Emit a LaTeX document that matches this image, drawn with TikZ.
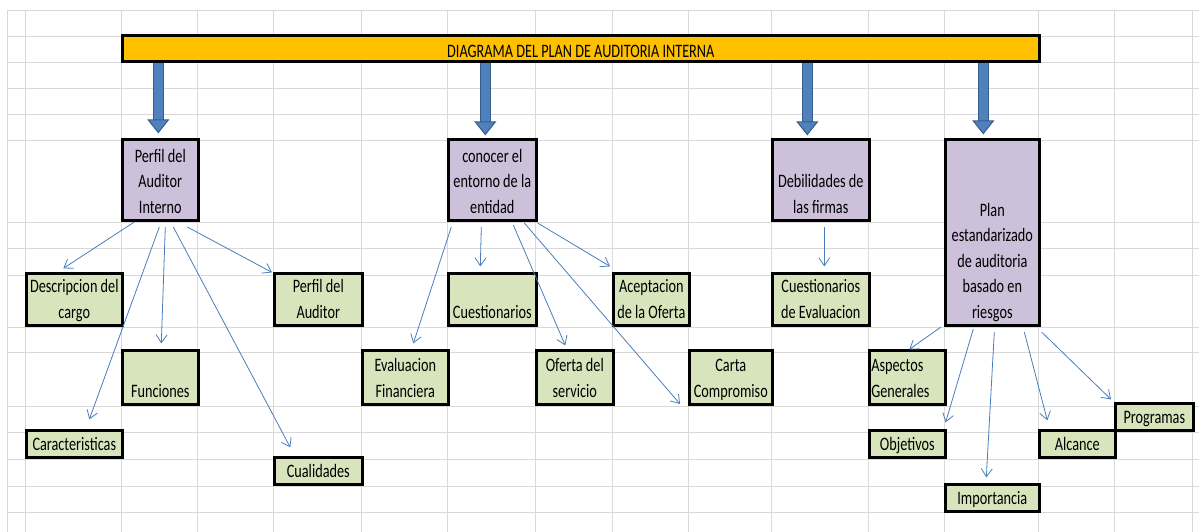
\documentclass[tikz,border=0pt]{standalone}
\usepackage{fontspec}
\setmainfont{Carlito}[FakeStretch=0.75]
\usetikzlibrary{arrows.meta}
\definecolor{barorange}{HTML}{FFC000}
\definecolor{headpurple}{HTML}{CCC0DA}
\definecolor{itemgreen}{HTML}{D8E4BC}
\definecolor{gridgray}{HTML}{D9D9D9}
\definecolor{arrowblue}{HTML}{4F81BD}
\definecolor{arrowedge}{HTML}{385D8A}
\definecolor{linkblue}{HTML}{4A7EBB}

\begin{document}
\begin{tikzpicture}[x=1pt, y=-1pt,
  cell/.style={draw=black, line width=2.6pt, inner sep=0pt, align=center,
    font=\fontsize{19}{25.5}\selectfont, text depth=7.5pt, anchor=south west},
  head/.style={cell, fill=headpurple},
  item/.style={cell, fill=itemgreen},
  dims/.style 2 args={minimum width=#1pt, text height=#2pt},
  gridline/.style={draw=gridgray, line width=1pt},
  link/.style={draw=linkblue, line width=0.8pt, -{Straight Barb[length=8pt,width=11pt]}},
  bigarrow/.style={draw=arrowblue, line width=9pt,
    -{Triangle[width=22pt,length=14pt,line width=1pt,fill=arrowblue,color=arrowedge]},
    preaction={draw=arrowedge, line width=11pt, arrows=-, shorten >=13pt}}]
  \useasboundingbox (0,0) rectangle (1199,532);
  \foreach \gx in {7,25,121,197,273,361,447,535,612,688,771,868,944,1038,1114,1192}
    \draw[gridline] (\gx,11) -- (\gx,532);
  \foreach \gy in {11,37,63,89,115,141,222,248,275,327,352,406,432,459,486,512}
    \draw[gridline] (7,\gy) -- (1199,\gy);

  \node[cell, fill=barorange, dims={917}{21.5}, text depth=4.5pt] (title) at (121,63)
    {DIAGRAMA DEL PLAN DE AUDITORIA INTERNA};

  \node[head, dims={76}{73.5}] (perfil) at (121,222) {Perfil del\\Auditor\\Interno};
  \node[head, dims={88}{73.5}] (entorno) at (447,222) {conocer el\\entorno de la\\entidad};
  \node[head, dims={97}{73.5}] (debil) at (771,222) {Debilidades de\\las firmas};
  \node[head, dims={94}{178.5}] (plan) at (944,327)
    {Plan\\estandarizado\\de auditoria\\basado en\\riesgos};

  \node[item, dims={96}{44.5}] (descrip) at (25,327) {Descripcion del\\cargo};
  \node[item, dims={88}{44.5}] (perfilaud) at (273,327) {Perfil del\\Auditor};
  \node[item, dims={76}{46.5}] (funciones) at (121,406) {Funciones};
  \node[item, dims={96}{19.5}] (caract) at (25,459) {Caracteristicas};
  \node[item, dims={88}{19.5}] (cualid) at (273,486) {Cualidades};

  \node[item, dims={88}{44.5}] (cuest) at (447,327) {Cuestionarios};
  \node[item, dims={76}{44.5}] (acept) at (612,327) {Aceptacion\\de la Oferta};
  \node[item, dims={86}{46.5}] (evalfin) at (361,406) {Evaluacion\\Financiera};
  \node[item, dims={77}{46.5}] (oferta) at (535,406) {Oferta del\\servicio};
  \node[item, dims={83}{46.5}] (carta) at (688,406) {Carta\\Compromiso};

  \node[item, dims={97}{44.5}] (cuesteval) at (771,327) {Cuestionarios\\de Evaluacion};
  \node[item, dims={76}{21}, text depth=33pt, align=left, text width=72pt] (aspectos)
    at (868,406) {Aspectos\\Generales};
  \node[item, dims={76}{19.5}] (objetivos) at (868,459) {Objetivos};
  \node[item, dims={94}{19.5}] (importancia) at (944,513) {Importancia};
  \node[item, dims={76}{19.5}] (alcance) at (1038,459) {Alcance};
  \node[item, dims={78}{19.5}] (programas) at (1114,432) {Programas};

  \coordinate (tip1) at ([xshift=-2pt,yshift=5pt]perfil.north);
  \coordinate (tip2) at ([xshift=-7pt,yshift=3pt]entorno.north);
  \coordinate (tip3) at ([xshift=-13.5pt,yshift=3pt]debil.north);
  \coordinate (tip4) at ([xshift=-9pt,yshift=4pt]plan.north);
  \draw[bigarrow] (title.south -| tip1) -- (tip1);
  \draw[bigarrow] (title.south -| tip2) -- (tip2);
  \draw[bigarrow] (title.south -| tip3) -- (tip3);
  \draw[bigarrow] (title.south -| tip4) -- (tip4);

  \draw[link] ([xshift=-26pt]perfil.south) -- ([xshift=-11pt,yshift=4pt]descrip.north);
  \draw[link] ([xshift=-1pt,yshift=-5pt]perfil.south) -- ([xshift=15pt,yshift=10pt]caract.north);
  \draw[link] ([xshift=5pt,yshift=-5pt]perfil.south) -- ([xshift=1pt,yshift=6pt]funciones.north);
  \draw[link] ([xshift=13pt,yshift=-5pt]perfil.south) -- ([xshift=-28pt,yshift=9pt]cualid.north);
  \draw[link] ([xshift=27pt,yshift=-5pt]perfil.south) -- ([xshift=-1pt]perfilaud.north west);

  \draw[link] ([xshift=-41pt,yshift=-5pt]entorno.south) -- ([xshift=8pt,yshift=6pt]evalfin.north);
  \draw[link] ([xshift=-11pt,yshift=-5pt]entorno.south) -- ([xshift=-12pt,yshift=6pt]cuest.north);
  \draw[link] ([xshift=21pt,yshift=-3pt]entorno.south) -- ([xshift=-9.5pt,yshift=4pt]oferta.north);
  \draw[link] ([xshift=32pt,yshift=-1pt]entorno.south) -- ([xshift=-8pt,yshift=2pt]carta.south west);
  \draw[link] ([yshift=-1pt]entorno.south east) -- ([xshift=-2pt,yshift=6pt]acept.north west);

  \draw[link] ([xshift=3.5pt,yshift=-5pt]debil.south) -- ([xshift=3.5pt,yshift=6pt]cuesteval.north);

  \draw[link] ([xshift=-3pt]plan.south west) -- ([xshift=2pt]aspectos.north);
  \draw[link] ([xshift=-19pt,yshift=-2pt]plan.south) -- ([xshift=-1pt,yshift=7pt]objetivos.north east);
  \draw[link] ([xshift=2pt,yshift=-5pt]plan.south) -- ([xshift=-6pt,yshift=6pt]importancia.north);
  \draw[link] ([xshift=32pt,yshift=-5pt]plan.south) -- ([xshift=-30pt,yshift=9pt]alcance.north);
  \draw[link] ([xshift=1pt,yshift=-5pt]plan.south east) -- ([xshift=-3pt,yshift=3pt]programas.north west);
\end{tikzpicture}
\end{document}
